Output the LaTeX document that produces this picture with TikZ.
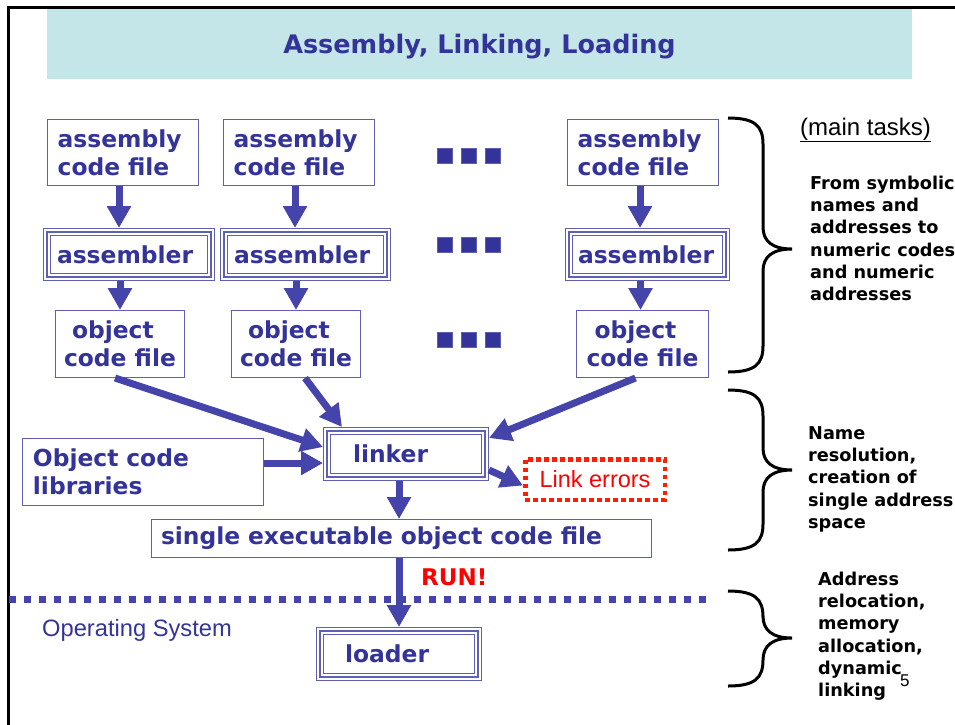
\documentclass[tikz,border=0pt]{standalone}
\usepackage{fontspec}
\setmainfont{Liberation Sans}
\newfontfamily\dvs{DejaVu Sans}
\usetikzlibrary{arrows.meta,calc}
\definecolor{darkb}{RGB}{51,51,153}
\definecolor{boxc}{RGB}{95,95,180}
\definecolor{arrc}{RGB}{68,68,170}
\definecolor{titlebg}{RGB}{196,230,232}
\definecolor{errred}{RGB}{255,30,0}
\newcommand\boxfnt{\dvs\bfseries\fontsize{23.4}{28}\selectfont}
\newcommand\sidefnt{\dvs\bfseries\fontsize{17.7}{22.3}\selectfont}
\tikzset{
  box/.style={draw=boxc, line width=1.3pt, outer sep=0.65pt, text=darkb, font=\boxfnt, align=left, inner ysep=0pt},
  tribox/.style={draw=boxc, line width=1.8pt, preaction={draw=boxc, line width=8pt}, preaction={draw=white, line width=5.4pt}, outer sep=4pt, text=darkb, font=\boxfnt, align=left, inner ysep=0pt},
  errbox/.style={draw=errred, line width=4.5pt, dash pattern=on 4.5pt off 3.5pt, outer sep=2.25pt, text=red, font=\fontsize{23.5}{28}\selectfont, inner sep=0pt},
  barrow/.style={draw=arrc, line width=7pt, -{Triangle[width=23pt,length=22pt]}},
  sidetext/.style={anchor=north west, align=left, inner sep=0pt, font=\sidefnt, text=black},
  bracestyle/.style={draw=black, line width=3pt},
  dotsq/.style={fill=darkb, draw=boxc, line width=0.8pt}
}
\newcommand\mybrace[3]{%
  \draw[bracestyle] (728,#1) .. controls (755,#1) and (763,#1+8) .. (763,#1+26) -- (763,#2-22) .. controls (763,#2-8) and (772,#2) .. (792,#2) .. controls (772,#2) and (763,#2+8) .. (763,#2+22) -- (763,#3-26) .. controls (763,#3-8) and (755,#3) .. (728,#3);}
\begin{document}
\begin{tikzpicture}[x=1pt,y=-1pt]
\useasboundingbox (0,0) rectangle (955,724);
% frame and title
\draw[line width=3pt] (8,726) -- (8,7) -- (957,7);
\fill[titlebg] (47,8.5) rectangle (912,79);
\node[anchor=base, inner sep=0pt, text=darkb, font=\dvs\bfseries\fontsize{25.5}{30}\selectfont] (title) at (479.5,53) {Assembly, Linking, Loading};
% assembly code files
\node[box, minimum width=150.7pt, minimum height=65.7pt, text width=130.7pt, inner xsep=10pt] (af1) at (123,152.5) {assembly\\code file};
\node[box, minimum width=150.7pt, minimum height=65.7pt, text width=130.7pt, inner xsep=10pt] (af2) at (299,152.5) {assembly\\code file};
\node[box, minimum width=150.7pt, minimum height=65.7pt, text width=130.7pt, inner xsep=10pt] (af3) at (643,152.5) {assembly\\code file};
% assemblers
\node[tribox, minimum width=164pt, minimum height=45pt, text width=144pt, inner xsep=10pt] (as1) at (129,254.5) {assembler};
\node[tribox, minimum width=163pt, minimum height=45pt, text width=143pt, inner xsep=10pt] (as2) at (305.5,254.5) {assembler};
\node[tribox, minimum width=157pt, minimum height=45pt, text width=139pt, inner xsep=9pt] (as3) at (647.5,254.5) {assembler};
% object code files
\node[box, minimum width=128.7pt, minimum height=66.7pt, inner xsep=4pt] (ob1) at (120,344) {\hspace*{8pt}object\\code file};
\node[box, minimum width=128.7pt, minimum height=66.7pt, inner xsep=4pt] (ob2) at (296,344) {\hspace*{8pt}object\\code file};
\node[box, minimum width=131.7pt, minimum height=66.7pt, inner xsep=4pt] (ob3) at (642.5,344) {\hspace*{8pt}object\\code file};
% dots
\foreach \yy in {156,245,340}{
  \foreach \xx in {444.5,468.5,492.5}{
    \fill[dotsq] (\xx-7.5,\yy-7.5) rectangle (\xx+7.5,\yy+7.5);
  }
}
% linker and others
\node[tribox, minimum width=158pt, minimum height=46pt, text width=106pt, inner xsep=26pt] (lk) at (406,454) {linker};
\node[box, minimum width=240.7pt, minimum height=66.7pt, text width=220.1pt, inner xsep=10.3pt] (lib) at (143,472) {Object code\\libraries};
\node[errbox, minimum width=139.5pt, minimum height=40.5pt] (le) at (595,479.5) {Link errors};
\node[box, minimum width=499.7pt, minimum height=37.7pt, text width=481pt, inner xsep=9.35pt] (se) at (401.5,538.5) {single executable object code file};
\node[tribox, minimum width=158pt, minimum height=46pt, text width=108pt, inner xsep=25pt] (ld) at (399,654) {loader};
% OS boundary
\draw[draw=arrc, line width=7pt, dash pattern=on 7pt off 8pt] (9,599) -- (706,599);
\node[anchor=base west, inner sep=0pt, text=darkb, font=\fontsize{23.7}{28}\selectfont] (os) at (42,636) {Operating System};
\node[anchor=base west, inner sep=0pt, text=red, font=\dvs\bfseries\fontsize{23}{28}\selectfont] (run) at (421,585) {RUN!};
% arrows
\coordinate (a1) at ($(af1.south)+(-4,0)$);
\coordinate (a2) at ($(af2.south)+(-4,0)$);
\coordinate (a3) at ($(af3.south)+(-3,0)$);
\draw[barrow] (a1) -- (a1 |- as1.north);
\draw[barrow] (a2) -- (a2 |- as2.north);
\draw[barrow] (a3) -- (a3 |- as3.north);
\draw[barrow] (ob1.north |- as1.south) -- (ob1.north);
\draw[barrow] (ob2.north |- as2.south) -- (ob2.north);
\coordinate (b3) at ($(ob3.north)+(-2,0)$);
\draw[barrow] (b3 |- as3.south) -- (b3);
\draw[barrow] ($(ob1.south)+(-5,0)$) -- ($(lk.west)+(0,-7)$);
\draw[barrow] ($(ob2.south)+(9,0)$) -- ($(lk.north west)+(19,0)$);
\draw[barrow] ($(ob3.south)+(-7,0)$) -- ($(lk.north east)+(0,11)$);
\draw[barrow] ($(lib.east)+(0,-9)$) -- ($(lk.west)+(0,9)$);
\draw[barrow] ($(lk.south east)+(0,-11)$) -- ($(le.west)+(0,6)$);
\coordinate (lkd) at ($(lk.south)+(-7,0)$);
\draw[barrow] (lkd) -- (lkd |- se.north);
\coordinate (sed) at ($(se.south)+(-2.5,0)$);
\draw[barrow] (sed) -- (sed |- ld.north);
% braces
\mybrace{118}{249}{372}
\mybrace{390}{470}{550}
\mybrace{591}{638}{686}
% side texts
\node[anchor=base west, inner sep=0pt, font=\fontsize{24}{28}\selectfont] (mt) at (800,135) {\underline{(main tasks)}};
\node[sidetext] (t1) at (810,175.5) {From symbolic\\names and\\addresses to\\numeric codes\\and numeric\\addresses};
\node[sidetext] (t2) at (808,426) {Name\\resolution,\\creation of\\single address\\space};
\node[sidetext] (t3) at (818,571.5) {Address\\relocation,\\memory\\allocation,\\dynamic\\linking};
\node[anchor=base west, inner sep=0pt, font=\fontsize{17}{20}\selectfont] (pg) at (900,686) {5};
\end{tikzpicture}
\end{document}
